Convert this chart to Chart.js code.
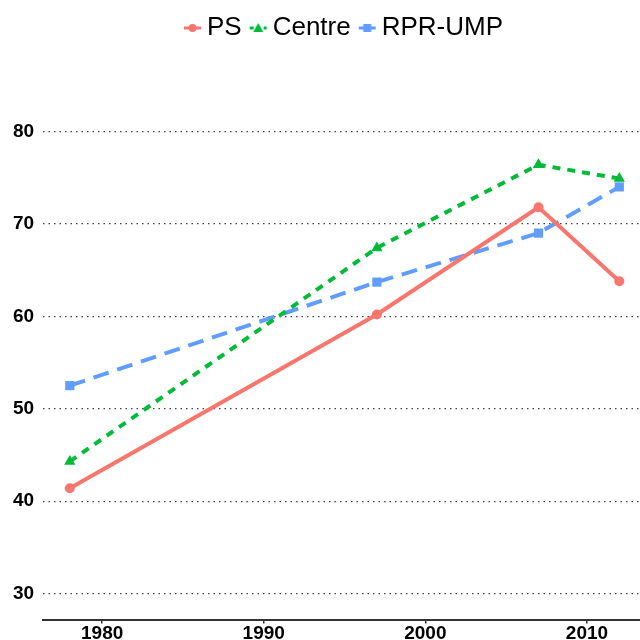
<!DOCTYPE html>
<html>
<head>
<meta charset="utf-8">
<script src="https://cdn.jsdelivr.net/npm/chart.js@4/dist/chart.umd.min.js"></script>
<style>
  html, body { margin: 0; padding: 0; background: #fff; }
  #wrap { width: 640px; height: 640px; }
</style>
</head>
<body>
<div id="wrap"><canvas id="myChart"></canvas></div>
<script>
var years = [1978, 1997, 2007, 2012];
var ps = [41.4, 60.2, 71.8, 63.8];
var centre = [44.3, 67.4, 76.4, 74.9];
var rprUmp = [52.5, 63.7, 69.0, 74.0];
var xTicks = [1980, 1990, 2000, 2010];
var yTicks = [30, 40, 50, 60, 70, 80];

function pts(vals) {
	return years.map(function (y, i) { return { x: y, y: vals[i] }; });
}

// little line + marker picture for the legend
function legendIcon(color, shape, dash) {
	var c = document.createElement('canvas');
	c.width = 19; c.height = 12;
	var g = c.getContext('2d');
	g.strokeStyle = color; g.fillStyle = color; g.lineWidth = 3;
	g.setLineDash(dash);
	g.beginPath(); g.moveTo(1, 6); g.lineTo(18, 6); g.stroke();
	g.setLineDash([]);
	g.beginPath();
	if (shape === 'circle') g.arc(9.5, 6, 4, 0, Math.PI * 2);
	else if (shape === 'triangle') { g.moveTo(9.5, 1); g.lineTo(14.5, 10); g.lineTo(4.5, 10); g.closePath(); }
	else g.rect(5.5, 2, 8, 8);
	g.fill();
	return c;
}

// legend sits centred over the plot panel, a bit right of the canvas centre
var shiftLegend = {
	id: 'shiftLegend',
	afterLayout: function (chart) {
		chart.legend.left += 25;
		chart.legend.right += 25;
	}
};

var tickFont = { family: 'Liberation Sans', size: 19, weight: 'bold' };

var ctx = document.getElementById('myChart').getContext('2d');
var myChart = new Chart(ctx, {
	type: 'line',
	data: {
		datasets: [{
			label: 'PS',
			data: pts(ps),
			borderColor: '#F8766D',
			backgroundColor: '#F8766D',
			borderWidth: 4,
			pointStyle: 'circle',
			pointRadius: 5,
			pointBorderWidth: 0,
			icon: legendIcon('#F8766D', 'circle', [])
		}, {
			label: 'Centre',
			data: pts(centre),
			borderColor: '#00BA38',
			backgroundColor: '#00BA38',
			borderWidth: 4,
			borderDash: [8, 7],
			pointStyle: 'triangle',
			pointRadius: 6.5,
			pointBorderWidth: 0,
			icon: legendIcon('#00BA38', 'triangle', [4, 3])
		}, {
			label: 'RPR-UMP',
			data: pts(rprUmp),
			borderColor: '#619CFF',
			backgroundColor: '#619CFF',
			borderWidth: 4,
			borderDash: [16, 9],
			pointStyle: 'rect',
			pointRadius: 6.5,
			pointBorderWidth: 0,
			icon: legendIcon('#619CFF', 'rect', [7, 3])
		}]
	},
	plugins: [shiftLegend],
	options: {
		responsive: true,
		maintainAspectRatio: false,
		animation: false,
		clip: false,
		layout: { autoPadding: false, padding: { left: 4, right: 0, top: 0, bottom: -13 } },
		plugins: {
			tooltip: { enabled: false },
			legend: {
				position: 'top',
				labels: {
					usePointStyle: true,
					pointStyleWidth: 3,
					color: '#000',
					font: { family: 'Liberation Sans', size: 26 },
					padding: 15,
					generateLabels: function (chart) {
						return chart.data.datasets.map(function (ds, i) {
							return { text: ds.label, pointStyle: ds.icon, datasetIndex: i, fontColor: '#000', hidden: false };
						});
					}
				}
			}
		},
		scales: {
			x: {
				type: 'linear',
				min: 1976.35,
				max: 2013.28,
				afterBuildTicks: function (axis) { axis.ticks = xTicks.map(function (v) { return { value: v }; }); },
				grid: { drawOnChartArea: false, drawTicks: true, tickLength: 4, color: '#333', lineWidth: 1.5 },
				border: { display: true, color: '#333', width: 2 },
				ticks: { color: '#000', font: tickFont, padding: -1, maxRotation: 0,
					callback: function (v) { return String(v); } }
			},
			y: {
				min: 27.19,
				max: 88.7,
				afterBuildTicks: function (axis) { axis.ticks = yTicks.map(function (v) { return { value: v }; }); },
				grid: { drawTicks: false, color: '#444', lineWidth: 1.2 },
				border: { display: false, dash: [1.5, 4] },
				ticks: { color: '#000', font: tickFont, padding: 9,
					callback: function (v) { return String(v); } }
			}
		}
	}
});
</script>
</body>
</html>
